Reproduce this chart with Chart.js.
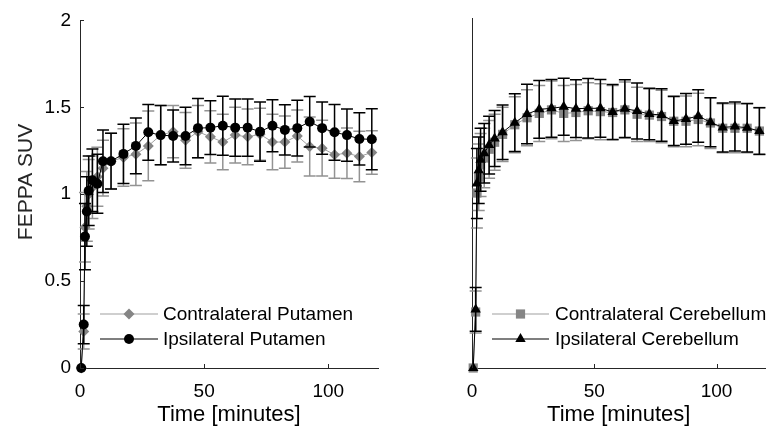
<!DOCTYPE html>
<html>
<head>
<meta charset="utf-8">
<script src="https://cdn.jsdelivr.net/npm/chart.js@4"></script>
<style>
  body { margin: 0; background: #fff; }
  #wrap { position: relative; width: 772px; height: 430px; }
  canvas { position: absolute; top: 0; }
  #left { left: 0; }
  #right { left: 390px; }
</style>
</head>
<body>
<div id="wrap">
  <canvas id="left" width="390" height="430"></canvas>
  <canvas id="right" width="382" height="430"></canvas>
</div>
<script>
// frame mid-times (minutes), shared by all four curves
const times = [0.5, 1.5, 2, 2.75, 3.5, 5, 7, 9.25, 12.5, 17.5, 22.5, 27.5, 32.5, 37.5, 42.5,
  47.5, 52.5, 57.5, 62.5, 67.5, 72.5, 77.5, 82.5, 87.5, 92.5, 97.5, 102.5, 107.5, 112.5, 117.5];

// putamen
const contraPutamen = [0, 0.21, 0.81, 0.93, 1.0, 1.04, 1.1, 1.15, 1.19, 1.211, 1.23, 1.278, 1.34, 1.36, 1.31,
  1.36, 1.33, 1.30, 1.34, 1.33, 1.345, 1.30, 1.30, 1.335, 1.274, 1.265, 1.227, 1.236, 1.217, 1.24];
const contraPutamenErr = [0, 0.1, 0.2, 0.2, 0.2, 0.18, 0.17, 0.16, 0.16, 0.165, 0.18, 0.2, 0.17, 0.15, 0.16,
  0.15, 0.15, 0.16, 0.16, 0.16, 0.15, 0.16, 0.15, 0.15, 0.17, 0.16, 0.135, 0.145, 0.145, 0.125];
const ipsiPutamen = [0, 0.25, 0.756, 0.90, 1.02, 1.08, 1.06, 1.19, 1.19, 1.232, 1.278, 1.356, 1.34, 1.335, 1.335,
  1.38, 1.383, 1.394, 1.383, 1.383, 1.36, 1.394, 1.37, 1.38, 1.417, 1.38, 1.356, 1.34, 1.318, 1.316];
const ipsiPutamenErr = [0, 0.11, 0.19, 0.2, 0.2, 0.18, 0.17, 0.18, 0.16, 0.17, 0.16, 0.16, 0.17, 0.15, 0.165,
  0.17, 0.155, 0.17, 0.165, 0.165, 0.17, 0.15, 0.145, 0.16, 0.145, 0.15, 0.16, 0.15, 0.15, 0.175];

// cerebellum
const contraCerebellum = [0, 0.32, 1.0, 1.09, 1.16, 1.2, 1.25, 1.29, 1.335, 1.39, 1.43, 1.455, 1.475, 1.455, 1.46,
  1.47, 1.465, 1.46, 1.475, 1.45, 1.445, 1.437, 1.41, 1.41, 1.42, 1.40, 1.37, 1.37, 1.37, 1.354];
const contraCerebellumErr = [0, 0.12, 0.2, 0.19, 0.18, 0.17, 0.165, 0.16, 0.155, 0.16, 0.16, 0.16, 0.165, 0.16, 0.16,
  0.16, 0.16, 0.155, 0.16, 0.155, 0.15, 0.15, 0.145, 0.145, 0.15, 0.145, 0.14, 0.14, 0.14, 0.135];
const ipsiCerebellum = [0, 0.335, 1.055, 1.13, 1.19, 1.227, 1.274, 1.312, 1.347, 1.402, 1.451, 1.478, 1.484, 1.493, 1.482,
  1.484, 1.484, 1.463, 1.482, 1.469, 1.451, 1.446, 1.411, 1.423, 1.44, 1.404, 1.375, 1.38, 1.373, 1.354];
const ipsiCerebellumErr = [0, 0.125, 0.2, 0.19, 0.18, 0.17, 0.165, 0.16, 0.156, 0.165, 0.17, 0.165, 0.165, 0.163, 0.165,
  0.17, 0.165, 0.157, 0.165, 0.16, 0.147, 0.15, 0.14, 0.145, 0.15, 0.14, 0.14, 0.14, 0.138, 0.133];

const xTicks = [0, 50, 100];
const yTicks = [0, 0.5, 1, 1.5, 2];

const axisColor = '#262626';
const grayMarker = '#858585';
const grayLine = '#a0a0a0';
const grayBar = '#939393';

function points(values) {
  return values.map((v, i) => ({ x: times[i], y: v }));
}

function series(label, values, errors, dark, style, radius) {
  return {
    label: label,
    data: points(values),
    errors: errors,
    errorColor: dark ? '#000' : grayBar,
    borderColor: dark ? '#000' : grayLine,
    backgroundColor: dark ? '#000' : grayMarker,
    pointBackgroundColor: dark ? '#000' : grayMarker,
    pointBorderColor: dark ? '#000' : grayMarker,
    borderWidth: 1,
    pointStyle: style,
    pointRadius: radius,
    pointBorderWidth: 0,
    order: dark ? 0 : 1,
    clip: false
  };
}

// vertical error bars with caps, drawn under each dataset's own line
const errorBars = {
  id: 'errorBars',
  beforeDatasetDraw(chart, args) {
    const ds = chart.data.datasets[args.index];
    if (!ds.errors) return;
    const ctx = chart.ctx;
    const xs = chart.scales.x, ys = chart.scales.y;
    ctx.save();
    ctx.strokeStyle = ds.errorColor;
    ctx.lineWidth = 1.5;
    ctx.beginPath();
    ds.data.forEach((p, i) => {
      const e = ds.errors[i];
      if (!e) return;
      const x = xs.getPixelForValue(p.x);
      const top = ys.getPixelForValue(p.y + e);
      const bot = ys.getPixelForValue(p.y - e);
      ctx.moveTo(x, top); ctx.lineTo(x, bot);
      ctx.moveTo(x - 6, top); ctx.lineTo(x + 6, top);
      ctx.moveTo(x - 6, bot); ctx.lineTo(x + 6, bot);
    });
    ctx.stroke();
    ctx.restore();
  }
};

// matlab style ticks pointing into the plot
const insideTicks = {
  id: 'insideTicks',
  afterDraw(chart, args, opts) {
    const ctx = chart.ctx;
    const { left, bottom } = chart.chartArea;
    ctx.save();
    ctx.strokeStyle = axisColor;
    ctx.lineWidth = 1;
    ctx.beginPath();
    chart.scales.x.ticks.forEach(t => {
      const x = Math.round(chart.scales.x.getPixelForValue(t.value)) + 0.5;
      ctx.moveTo(x, bottom); ctx.lineTo(x, bottom - 4);
    });
    if (opts.y) {
      chart.scales.y.ticks.forEach(t => {
        const y = Math.round(chart.scales.y.getPixelForValue(t.value)) + 0.5;
        ctx.moveTo(left, y); ctx.lineTo(left + 4, y);
      });
    }
    ctx.stroke();
    ctx.restore();
  }
};

// legend: line sample with marker, then the text
const lineLegend = {
  id: 'lineLegend',
  afterDraw(chart, args, opts) {
    const ctx = chart.ctx;
    ctx.save();
    ctx.font = '19px "Liberation Sans", Arial, sans-serif';
    ctx.textBaseline = 'middle';
    ctx.fillStyle = '#000';
    opts.order.forEach((idx, row) => {
      const ds = chart.data.datasets[idx];
      const y = opts.y + row * opts.dy;
      ctx.strokeStyle = ds.borderColor;
      ctx.lineWidth = 1.2;
      ctx.beginPath();
      ctx.moveTo(opts.x1, y); ctx.lineTo(opts.x2, y);
      ctx.stroke();
      ctx.fillStyle = ds.pointBackgroundColor;
      ctx.strokeStyle = ds.pointBorderColor;
      Chart.helpers.drawPoint(ctx, { pointStyle: ds.pointStyle, radius: ds.pointRadius, rotation: 0, borderWidth: 0 },
        (opts.x1 + opts.x2) / 2, y);
      ctx.fillStyle = '#000';
      ctx.fillText(ds.label, opts.textX, y + 1);
    });
    ctx.restore();
  }
};

const yTitle = {
  id: 'yTitle',
  afterDraw(chart, args, opts) {
    if (!opts.text) return;
    const ctx = chart.ctx;
    ctx.save();
    ctx.translate(opts.x, opts.y);
    ctx.rotate(-Math.PI / 2);
    ctx.font = '21px "Liberation Sans", Arial, sans-serif';
    ctx.fillStyle = axisColor;
    ctx.textAlign = 'center';
    ctx.textBaseline = 'middle';
    ctx.fillText(opts.text, 0, 0);
    ctx.restore();
  }
};

function makeChart(id, datasets, opts) {
  return new Chart(document.getElementById(id), {
    type: 'line',
    data: { datasets: datasets },
    options: {
      responsive: false,
      animation: false,
      devicePixelRatio: 1,
      layout: { padding: { left: 0, right: opts.padRight, top: 18, bottom: 0 } },
      scales: {
        x: {
          type: 'linear',
          min: 0,
          max: 120,
          afterBuildTicks: s => { s.ticks = xTicks.map(v => ({ value: v })); },
          afterFit: s => { s.height = 62; },
          grid: { display: false, drawTicks: false },
          border: { display: true, color: axisColor, width: 1 },
          ticks: { color: '#000', padding: 12, font: { size: 19, family: '"Liberation Sans", Arial' } },
          title: {
            display: true,
            text: 'Time [minutes]',
            color: '#000',
            padding: { top: 0, bottom: 2 },
            font: { size: 22, family: '"Liberation Sans", Arial' }
          }
        },
        y: {
          min: 0,
          max: 2,
          afterBuildTicks: s => { s.ticks = yTicks.map(v => ({ value: v })); },
          afterFit: s => { s.width = opts.yWidth; },
          grid: { display: false, drawTicks: false },
          border: { display: true, color: axisColor, width: 1 },
          ticks: {
            display: opts.yLabels,
            color: '#000',
            padding: 9,
            font: { size: 19, family: '"Liberation Sans", Arial' },
            callback: v => String(v)
          }
        }
      },
      plugins: {
        legend: { display: false },
        tooltip: { enabled: false },
        insideTicks: { y: opts.yLabels },
        lineLegend: opts.legend,
        yTitle: opts.yTitle
      }
    },
    plugins: [errorBars, insideTicks, lineLegend, yTitle]
  });
}

makeChart('left', [
  series('Contralateral Putamen', contraPutamen, contraPutamenErr, false, 'rectRot', 5.5),
  series('Ipsilateral Putamen', ipsiPutamen, ipsiPutamenErr, true, 'circle', 5)
], {
  padRight: 12,
  yWidth: 80,
  yLabels: true,
  legend: { order: [0, 1], x1: 100, x2: 158, textX: 163, y: 314, dy: 25 },
  yTitle: { text: 'FEPPA SUV', x: 26, y: 182 }
});

makeChart('right', [
  series('Contralateral Cerebellum', contraCerebellum, contraCerebellumErr, false, 'rect', 6.5),
  series('Ipsilateral Cerebellum', ipsiCerebellum, ipsiCerebellumErr, true, 'triangle', 6)
], {
  padRight: 2,
  yWidth: 82,
  yLabels: false,
  legend: { order: [0, 1], x1: 102, x2: 159, textX: 165, y: 314, dy: 25 },
  yTitle: { text: '' }
});
</script>
</body>
</html>
